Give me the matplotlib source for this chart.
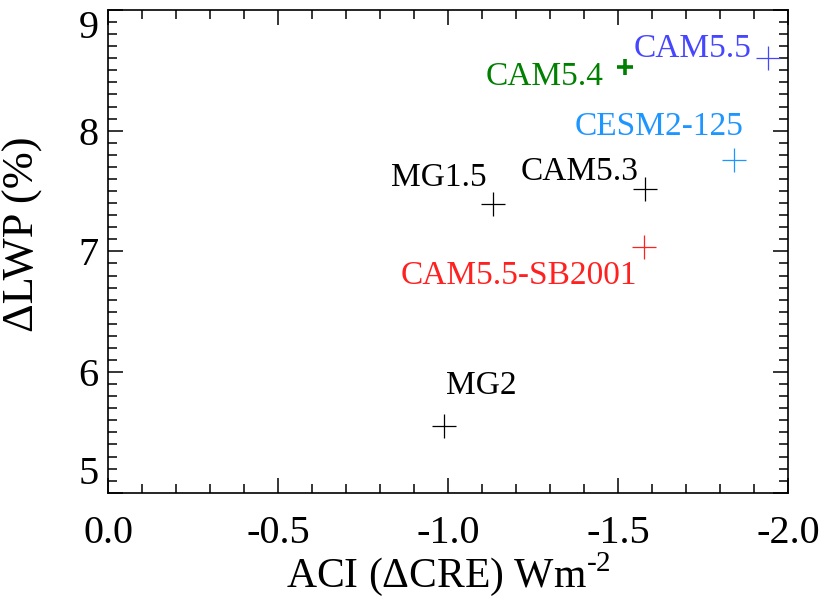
import matplotlib
matplotlib.use("Agg")
import matplotlib.pyplot as plt
from matplotlib.ticker import MultipleLocator

plt.rcParams['font.family'] = ['Liberation Serif', 'DejaVu Serif']
plt.rcParams['mathtext.fontset'] = 'custom'
plt.rcParams['mathtext.rm'] = 'Liberation Serif'
plt.rcParams['axes.unicode_minus'] = False

# model runs: ACI (x) vs change in LWP (y)
models = ['MG2', 'MG1.5', 'CAM5.3', 'CAM5.5-SB2001', 'CAM5.4', 'CAM5.5', 'CESM2-125']
aci = [-0.987, -1.133, -1.580, -1.576, -1.521, -1.942, -1.841]
dlwp = [5.55, 7.39, 7.52, 7.04, 8.53, 8.60, 7.76]
colors = ['black', 'black', 'black', '#ff2020', '#008000', '#4646ff', '#1e96ff']

# where each model name sits
label_x = [-1.099, -0.974, -1.388, -1.209, -1.284, -1.720, -1.620]
label_y = [5.89, 7.61, 7.66, 6.80, 8.45, 8.68, 8.03]

fig = plt.figure(figsize=(8.26, 5.97), dpi=100)
ax = fig.add_axes([0.1308, 0.1747, 0.8232, 0.8085])

for i, name in enumerate(models):
    if name == 'CAM5.4':
        ms, mew = 11.5, 2.6
    else:
        ms, mew = 17.5, 0.9
    ax.plot(aci[i], dlwp[i], '+', color=colors[i], ms=ms, mew=mew)
    ax.text(label_x[i], label_y[i], name, color=colors[i], fontsize=24,
            ha='center', va='center')

ax.set_xlim(0.0, -2.0)
ax.set_ylim(5, 9)
ax.xaxis.set_major_locator(MultipleLocator(0.5))
ax.xaxis.set_minor_locator(MultipleLocator(0.1))
ax.yaxis.set_major_locator(MultipleLocator(1))
ax.yaxis.set_minor_locator(MultipleLocator(0.1))
ax.xaxis.set_major_formatter(plt.FormatStrFormatter('%.1f'))

for s in ax.spines.values():
    s.set_linewidth(1.2)
ax.tick_params(which='both', direction='in', top=True, right=True, width=1.1)
ax.tick_params(which='major', length=11, labelsize=29)
ax.tick_params(which='minor', length=6.5)
ax.tick_params(axis='x', which='major', pad=16)
ax.tick_params(axis='y', which='major', pad=7)

ax.set_xlabel('ACI (ΔCRE) Wm$^{\\text{-2}}$', fontsize=30, labelpad=-1)
ax.set_ylabel('ΔLWP (%)', fontsize=32)
ax.yaxis.set_label_coords(-0.095, 0.535)

# keep the end labels on the y axis inside the frame
fig.canvas.draw()
for lab in ax.get_yticklabels():
    if lab.get_text() == '5':
        lab.set_va('bottom')
    elif lab.get_text() == '9':
        lab.set_va('top')

fig.savefig('out.png', dpi=100)
